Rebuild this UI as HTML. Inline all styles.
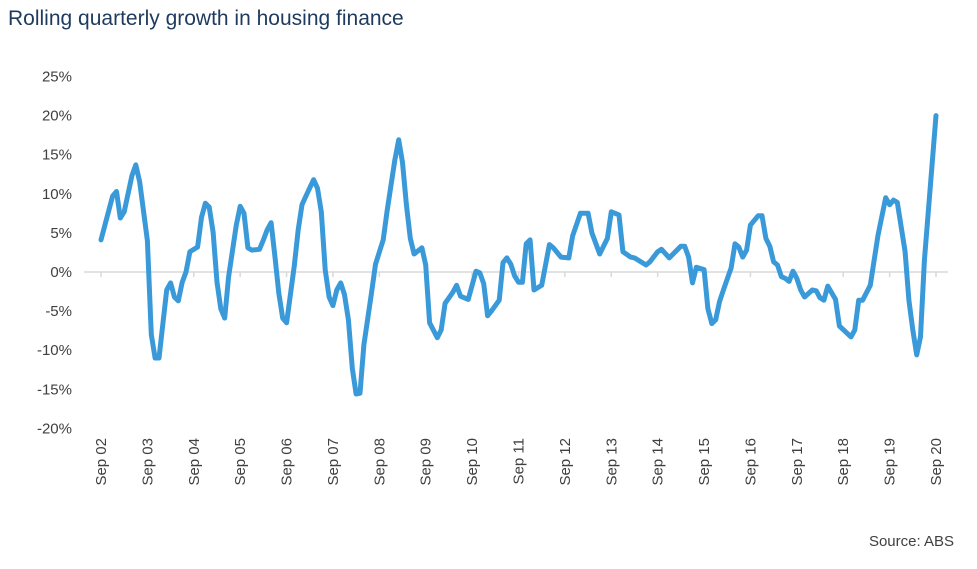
<!DOCTYPE html>
<html><head><meta charset="utf-8"><style>
body{margin:0;background:#fff;font-family:"Liberation Sans",sans-serif}
</style></head><body>
<svg width="977" height="564" xmlns="http://www.w3.org/2000/svg">
<text x="8" y="25" font-size="21" fill="#1f3a5f">Rolling quarterly growth in housing finance</text>
<g id="yaxis"></g>
<g id="xaxis"></g>
<path id="line" fill="none" stroke="#3a9ad9" stroke-width="5" stroke-linejoin="round" stroke-linecap="round"/>
<text x="954" y="546" font-size="15" fill="#404040" text-anchor="end">Source: ABS</text>
</svg>
<script>
const yTicks=[-20,-15,-10,-5,0,5,10,15,20,25];
const xLabels=["Sep 02","Sep 03","Sep 04","Sep 05","Sep 06","Sep 07","Sep 08","Sep 09","Sep 10","Sep 11","Sep 12","Sep 13","Sep 14","Sep 15","Sep 16","Sep 17","Sep 18","Sep 19","Sep 20"];
const months=[0,3,4,5,6,8,9,10,12,13,14,15,17,18,19,20,21,22,23,25,26,27,28,29,30,31,32,33,35,36,37,38,39,41,42,43,44,45,46,47,48,50,51,52,53,55,56,57,58,59,60,61,62,63,64,65,66,67,68,70,71,73,74,76,77,78,79,80,81,83,84,85,87,88,89,91,92,93,95,97,98,99,100,101,103,104,105,106,107,108,109,110,111,112,114,116,117,119,121,122,124,126,127,129,131,132,134,135,137,138,141,142,144,145,147,148,150,151,152,153,154,156,157,158,159,160,161,163,164,165,166,167,168,170,171,172,173,174,175,176,177,178,179,180,181,182,184,185,186,187,188,190,191,194,195,196,197,199,201,203,204,205,206,208,209,210,211,212,213,216];
const values=[4.1,9.7,10.3,6.9,7.7,12.3,13.7,11.5,4,-8,-11,-11,-2.3,-1.4,-3.2,-3.7,-1.3,0,2.6,3.2,7,8.8,8.3,5.1,-1.3,-4.7,-5.9,-0.6,6,8.4,7.5,3.1,2.8,2.9,4.1,5.4,6.3,1.9,-2.7,-5.9,-6.5,0.8,5.4,8.6,9.7,11.8,10.7,7.7,0.3,-3.2,-4.3,-2.3,-1.4,-2.9,-6.1,-12.3,-15.6,-15.5,-9.3,-2.6,1,4.1,7.8,14.3,16.9,14,8.6,4.3,2.3,3.1,0.9,-6.5,-8.4,-7.4,-4,-2.6,-1.7,-3.1,-3.5,0.1,-0.1,-1.5,-5.6,-5,-3.6,1.2,1.8,1,-0.5,-1.3,-1.3,3.6,4.1,-2.3,-1.7,3.5,3.1,1.9,1.8,4.6,7.5,7.5,5,2.3,4.3,7.7,7.3,2.6,1.9,1.8,0.9,1.3,2.6,2.9,1.8,2.3,3.3,3.3,1.9,-1.4,0.6,0.3,-4.7,-6.6,-6.1,-3.8,-2.3,0.5,3.6,3.2,1.9,2.8,6,7.2,7.2,4.3,3.3,1.3,0.9,-0.6,-0.8,-1.2,0.1,-0.8,-2.3,-3.2,-2.3,-2.4,-3.3,-3.6,-1.8,-3.5,-6.9,-8.3,-7.4,-3.6,-3.6,-1.7,4.7,9.5,8.6,9.2,8.9,2.6,-3.6,-7.4,-10.6,-8.3,1.5,20];
const NS="http://www.w3.org/2000/svg";
const y=v=>272-v*7.82;
const x=m=>101+m*(835/216);
const ya=document.getElementById('yaxis'),xa=document.getElementById('xaxis');
yTicks.forEach(t=>{const e=document.createElementNS(NS,'text');
e.setAttribute('x',72);e.setAttribute('y',y(t)+5);e.setAttribute('text-anchor','end');e.setAttribute('font-size','15');e.setAttribute('fill','#404040');
e.textContent=t+'%';


ya.appendChild(e);});
const zl=document.createElementNS(NS,'line');
zl.setAttribute('x1',84);zl.setAttribute('x2',948);zl.setAttribute('y1',y(0));zl.setAttribute('y2',y(0));zl.setAttribute('stroke','#d9d9d9');zl.setAttribute('stroke-width','1.5');


xa.appendChild(zl);
xLabels.forEach((l,i)=>{const px=x(i*12);
const tk=document.createElementNS(NS,'line');tk.setAttribute('x1',px);tk.setAttribute('x2',px);tk.setAttribute('y1',y(0));tk.setAttribute('y2',y(0)+5);tk.setAttribute('stroke','#d9d9d9');tk.setAttribute('stroke-width','1.5');


xa.appendChild(tk);
const e=document.createElementNS(NS,'text');
e.setAttribute('transform','translate('+(px+5)+',438) rotate(-90)');e.setAttribute('text-anchor','end');e.setAttribute('font-size','15');e.setAttribute('fill','#404040');
e.textContent=l;


xa.appendChild(e);});
document.getElementById('line').setAttribute('d',months.map((m,i)=>(i?'L':'M')+x(m).toFixed(1)+','+y(values[i]).toFixed(1)).join(''));
</script>
</body></html>
